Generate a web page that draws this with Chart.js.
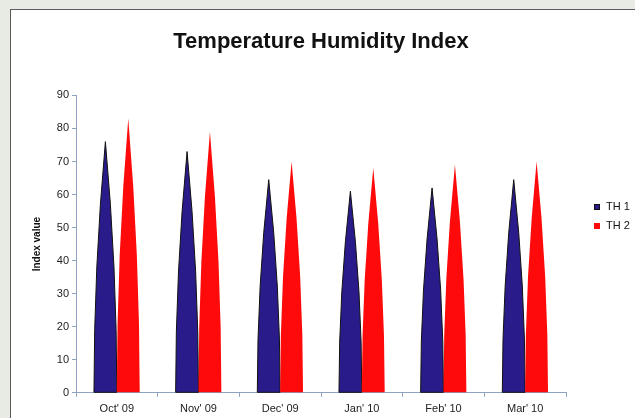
<!DOCTYPE html>
<html>
<head>
<meta charset="utf-8">
<script src="https://cdn.jsdelivr.net/npm/chart.js@4"></script>
<style>
  body { margin: 0; background: #e8ebe4; overflow: hidden; }
  #frame {
    position: absolute; left: 10px; top: 9px;
    width: 624px; height: 412px;
    background: #fff;
    border-top: 1px solid #5a5a5a;
    border-left: 1px solid #5a5a5a;
  }
  canvas { display: block; }
</style>
</head>
<body>
<div id="frame"><canvas id="thi" width="624" height="412"></canvas></div>
<script>
/* ------------------------------------------- */
/* DATA -------------------------------------- */
/* ------------------------------------------- */
let months = ["Oct' 09", "Nov' 09", "Dec' 09", "Jan' 10", "Feb' 10", "Mar' 10"];
let th1 = [76, 73, 64.5, 61, 62, 64.5];
let th2 = [83, 79, 70, 68, 69, 70];
let yTicks = [0, 10, 20, 30, 40, 50, 60, 70, 80, 90];

let axisColor = '#8ea3c2';
let fontFamily = "'Liberation Sans', Arial, sans-serif";

/* ------------------------------------------- */
/* CONE BARS --------------------------------- */
/* ------------------------------------------- */
// every bar becomes a cone: sides follow a parabola from the base to the tip
let conePlugin = {
  id: 'cones',
  beforeDatasetsDraw(chart) {
    let ctx = chart.ctx;
    chart.data.datasets.forEach((ds, i) => {
      let meta = chart.getDatasetMeta(i);
      meta.data.forEach((bar) => {
        let half = bar.width / 2;
        let mid = bar.base + (bar.y - bar.base) / 2;
        ctx.save();
        ctx.beginPath();
        ctx.moveTo(bar.x - half, bar.base);
        ctx.quadraticCurveTo(bar.x - half, mid, bar.x, bar.y);
        ctx.quadraticCurveTo(bar.x + half, mid, bar.x + half, bar.base);
        ctx.closePath();
        ctx.fillStyle = ds.backgroundColor;
        ctx.fill();
        if (ds.coneEdge) {
          ctx.strokeStyle = ds.coneEdge;
          ctx.lineWidth = 1;
          ctx.stroke();
        }
        ctx.restore();
      });
    });
    return false;
  }
};

// small legend to the right of the plot
let sideLegend = {
  id: 'sideLegend',
  afterDraw(chart) {
    let ctx = chart.ctx;
    ctx.save();
    ctx.font = '11px ' + fontFamily;
    ctx.textBaseline = 'middle';
    chart.data.datasets.forEach((ds, i) => {
      let y = 197 + i * 19;
      ctx.fillStyle = ds.backgroundColor;
      ctx.fillRect(583, y - 3, 6, 6);
      if (ds.coneEdge) {
        ctx.strokeStyle = ds.coneEdge;
        ctx.strokeRect(583.5, y - 2.5, 5, 5);
      }
      ctx.fillStyle = '#111';
      ctx.fillText(ds.label, 595, y);
    });
    ctx.restore();
  }
};

/* ------------------------------------------- */
/* CHART ------------------------------------- */
/* ------------------------------------------- */
let thiCont = document.getElementById('thi').getContext('2d');
let thiChart = new Chart(thiCont, {
  type: 'bar',
  data: {
    labels: months,
    datasets: [{
      label: 'TH 1',
      data: th1,
      backgroundColor: '#2a1b8a',
      coneEdge: '#111',
      borderWidth: 0,
    }, {
      label: 'TH 2',
      data: th2,
      backgroundColor: '#ff0a0a',
      borderWidth: 0,
    }]
  },
  plugins: [conePlugin, sideLegend],
  options: {
    responsive: false,
    animation: false,
    datasets: {
      bar: { barPercentage: 1, categoryPercentage: 0.56 }
    },
    layout: {
      padding: { left: 14, right: 69, top: 0, bottom: 0 }
    },
    plugins: {
      legend: { display: false },
      tooltip: { enabled: false },
      title: {
        display: true,
        fullSize: false,
        text: 'Temperature Humidity Index',
        color: '#111',
        font: { family: fontFamily, size: 22, weight: 'bold' },
        padding: { top: 19, bottom: 40 }
      }
    },
    scales: {
      x: {
        grid: {
          offset: true,
          drawOnChartArea: false,
          drawTicks: true,
          tickLength: 4,
          color: axisColor
        },
        border: { color: axisColor },
        ticks: {
          color: '#222',
          padding: 6,
          font: { family: fontFamily, size: 11 }
        }
      },
      y: {
        min: 0,
        max: 90,
        afterFit: (scale) => { scale.width = 51; },
        afterBuildTicks: (scale) => {
          scale.ticks = yTicks.map(v => ({ value: v }));
        },
        grid: {
          drawOnChartArea: false,
          drawTicks: true,
          tickLength: 4,
          color: axisColor
        },
        border: { color: axisColor },
        ticks: {
          color: '#222',
          padding: 3,
          font: { family: fontFamily, size: 11 }
        },
        title: {
          display: true,
          text: 'Index value',
          color: '#111',
          padding: { top: 6, bottom: 0 },
          font: { family: fontFamily, size: 10, weight: 'bold' }
        }
      }
    }
  }
});
</script>
</body>
</html>
